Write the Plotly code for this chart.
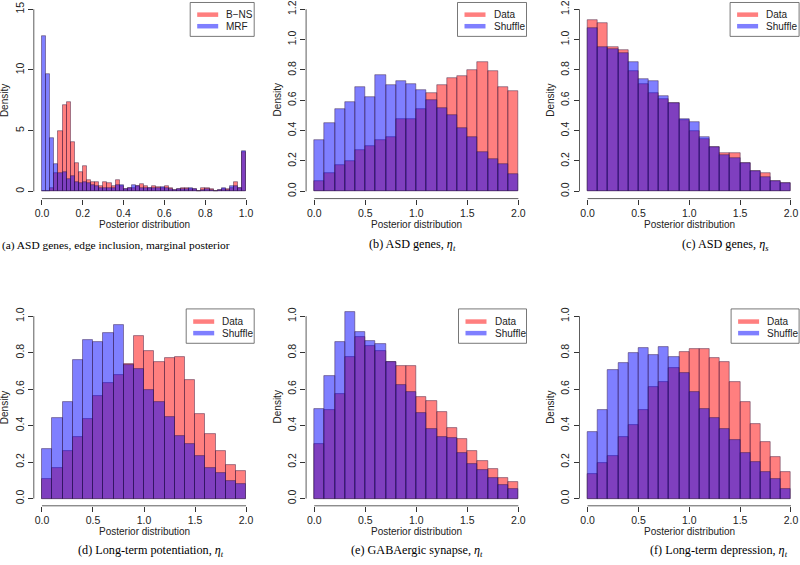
import numpy as np
import plotly.graph_objects as go

W, H = 800, 565

# ---------------- data (densities) ----------------
# panel (a): bins of width 0.02 on [0, 1]
a_edges_step = 0.02
a_bns = [0, 0, 0.3, 1.5, 5.0, 7.1, 7.4, 4.1, 2.35, 1.6, 2.1, 0.9, 0.75,
         0.8, 0.4, 0.8, 0.7, 0.45, 0.9, 0.45, 0.2, 0.3, 0.3, 0.4, 0.6, 0.4,
         0.3, 0.4, 0.35, 0.3, 0.4, 0.3, 0.1, 0.2, 0.3, 0.3, 0.2, 0.2, 0.05,
         0.3, 0.25, 0.2, 0.05, 0.1, 0.2, 0.2, 0.3, 0.8, 0.3, 3.25]
a_mrf = [12.8, 9.7, 4.4, 2.27, 1.5, 1.6, 1.0, 1.3, 0.8, 0.7, 0.8, 0.7, 0.5,
         0.45, 0.3, 0.3, 0.3, 0.3, 0.5, 0.55, 0.2, 0.3, 0.5, 0.4, 0.3, 0.3,
         0.3, 0.25, 0.3, 0.35, 0.3, 0.2, 0.1, 0.2, 0.2, 0.2, 0.25, 0.2, 0.05,
         0.1, 0.2, 0.1, 0.05, 0.15, 0.3, 0.15, 0.45, 0.45, 0.3, 3.3]

# panels (b)-(f): bins of width 0.1 on [0, 2]
eta_step = 0.1
b_data = [0.07, 0.12, 0.175, 0.20, 0.27, 0.30, 0.34, 0.36, 0.48, 0.48,
          0.54, 0.645, 0.70, 0.75, 0.76, 0.80, 0.85, 0.79, 0.69, 0.66]
b_shuf = [0.34, 0.45, 0.54, 0.59, 0.69, 0.62, 0.77, 0.70, 0.73, 0.71,
          0.67, 0.60, 0.55, 0.50, 0.42, 0.36, 0.26, 0.21, 0.18, 0.115]

c_data = [1.13, 1.11, 0.95, 0.93, 0.79, 0.71, 0.645, 0.61, 0.58, 0.47,
          0.40, 0.345, 0.29, 0.25, 0.25, 0.19, 0.135, 0.12, 0.07, 0.055]
c_shuf = [1.075, 0.95, 0.94, 0.915, 0.85, 0.74, 0.73, 0.63, 0.58, 0.475,
          0.46, 0.36, 0.29, 0.24, 0.22, 0.19, 0.135, 0.095, 0.07, 0.055]

d_data = [0.105, 0.17, 0.26, 0.34, 0.435, 0.565, 0.635, 0.68, 0.74, 0.89,
          0.81, 0.75, 0.77, 0.775, 0.65, 0.465, 0.355, 0.26, 0.185, 0.15]
d_shuf = [0.27, 0.44, 0.53, 0.76, 0.87, 0.86, 0.91, 0.955, 0.735, 0.71,
          0.595, 0.53, 0.45, 0.345, 0.30, 0.235, 0.17, 0.14, 0.095, 0.082]

e_data = [0.297, 0.488, 0.574, 0.778, 0.887, 0.838, 0.807, 0.748, 0.73, 0.73,
          0.555, 0.534, 0.477, 0.386, 0.328, 0.26, 0.206, 0.164, 0.111, 0.091]
e_shuf = [0.49, 0.67, 0.86, 1.025, 0.915, 0.865, 0.847, 0.75, 0.625, 0.587,
          0.47, 0.38, 0.34, 0.33, 0.25, 0.19, 0.155, 0.113, 0.076, 0.055]

f_data = [0.137, 0.197, 0.231, 0.337, 0.406, 0.486, 0.61, 0.637, 0.714, 0.803,
          0.823, 0.823, 0.769, 0.75, 0.637, 0.528, 0.41, 0.31, 0.228, 0.146]
f_shuf = [0.368, 0.486, 0.705, 0.745, 0.80, 0.825, 0.79, 0.83, 0.778, 0.69,
          0.583, 0.49, 0.443, 0.383, 0.322, 0.248, 0.20, 0.146, 0.109, 0.055]

a_xticks = [0.0, 0.2, 0.4, 0.6, 0.8, 1.0]
a_yticks = [0, 5, 10, 15]
eta_xticks = [0.0, 0.5, 1.0, 1.5, 2.0]
top_yticks = [0.0, 0.2, 0.4, 0.6, 0.8, 1.0, 1.2]
bot_yticks = [0.0, 0.2, 0.4, 0.6, 0.8, 1.0]

captions = [
    "(a) ASD genes, edge inclusion, marginal posterior",
    "(b) ASD genes, <i>η</i><sub><i>t</i></sub>",
    "(c) ASD genes, <i>η</i><sub><i>s</i></sub>",
    "(d) Long-term potentiation, <i>η</i><sub><i>t</i></sub>",
    "(e) GABAergic synapse, <i>η</i><sub><i>t</i></sub>",
    "(f) Long-term depression, <i>η</i><sub><i>t</i></sub>",
]
# ------------------------------------------------------------------------

RED = "rgba(255,0,0,0.5)"
BLUE = "rgba(0,0,255,0.5)"
SANS = "Liberation Sans, Arial, sans-serif"
SERIF = "Liberation Serif, Times New Roman, serif"
TXT = "#222"


def px(x):
    return x / W


def py(y):
    return 1 - y / H


# plot regions in pixels: (left, top, right, bottom)
regions = [
    (33.8, 0.0, 254.2, 197.3),
    (306.1, 0.0, 526.5, 197.3),
    (579.5, 0.0, 799.1, 197.3),
    (33.8, 308.0, 254.2, 505.6),
    (306.1, 308.0, 526.5, 505.6),
    (579.5, 308.0, 799.1, 505.6),
]

panels = [
    dict(r=a_bns, b=a_mrf, step=a_edges_step, xmax=1.0, ymax=15.0,
         xt=a_xticks, yt=a_yticks, xfmt="%.1f", yfmt="%d",
         labels=("B\u2212NS", "MRF"), lw=64),
    dict(r=b_data, b=b_shuf, step=eta_step, xmax=2.0, ymax=1.2,
         xt=eta_xticks, yt=top_yticks, xfmt="%.1f", yfmt="%.1f",
         labels=("Data", "Shuffle"), lw=69),
    dict(r=c_data, b=c_shuf, step=eta_step, xmax=2.0, ymax=1.2,
         xt=eta_xticks, yt=top_yticks, xfmt="%.1f", yfmt="%.1f",
         labels=("Data", "Shuffle"), lw=69),
    dict(r=d_data, b=d_shuf, step=eta_step, xmax=2.0, ymax=1.0,
         xt=eta_xticks, yt=bot_yticks, xfmt="%.1f", yfmt="%.1f",
         labels=("Data", "Shuffle"), lw=68),
    dict(r=e_data, b=e_shuf, step=eta_step, xmax=2.0, ymax=1.0,
         xt=eta_xticks, yt=bot_yticks, xfmt="%.1f", yfmt="%.1f",
         labels=("Data", "Shuffle"), lw=68),
    dict(r=f_data, b=f_shuf, step=eta_step, xmax=2.0, ymax=1.0,
         xt=eta_xticks, yt=bot_yticks, xfmt="%.1f", yfmt="%.1f",
         labels=("Data", "Shuffle"), lw=68),
]

fig = go.Figure()
shapes = []
annotations = []
layout = {}

for i, (p, reg) in enumerate(zip(panels, regions)):
    k = "" if i == 0 else str(i + 1)
    xa, ya = "x" + k, "y" + k
    L, T, R, B = reg
    n = len(p["r"])
    centers = (np.arange(n) + 0.5) * p["step"]
    for vals, col in ((p["r"], RED), (p["b"], BLUE)):
        fig.add_trace(go.Bar(
            x=centers, y=vals, width=p["step"], xaxis=xa, yaxis=ya,
            marker=dict(color=col, line=dict(color="rgba(50,20,60,0.75)", width=0.6)),
            showlegend=False, hoverinfo="skip"))
    xpad = 0.04 * p["xmax"]
    ypad = 0.04 * p["ymax"]
    layout["xaxis" + k] = dict(
        domain=[px(L), px(R)], anchor=ya, range=[-xpad, p["xmax"] + xpad],
        showgrid=False, zeroline=False, showline=False,
        ticks="outside", ticklen=5, tickwidth=0.8, tickcolor="#333",
        tickvals=p["xt"], ticktext=[p["xfmt"] % v for v in p["xt"]],
        tickfont=dict(family=SANS, size=10.5, color=TXT), fixedrange=True)
    layout["yaxis" + k] = dict(
        domain=[py(B), py(T)], anchor=xa, range=[-ypad, p["ymax"] + ypad],
        showgrid=False, zeroline=False, showline=False,
        ticks="outside", ticklen=5, tickwidth=0.8, tickcolor="#333",
        tickvals=p["yt"], ticktext=[p["yfmt"] % v for v in p["yt"]],
        tickangle=-90,
        tickfont=dict(family=SANS, size=10.5, color=TXT), fixedrange=True)
    # R-style axis lines spanning only the tick range
    shapes.append(dict(type="line", xref=xa, yref="paper",
                       x0=p["xt"][0], x1=p["xt"][-1], y0=py(B), y1=py(B),
                       line=dict(color="#333", width=0.8)))
    shapes.append(dict(type="line", xref="paper", yref=ya,
                       x0=px(L), x1=px(L), y0=p["yt"][0], y1=p["yt"][-1],
                       line=dict(color="#333", width=0.8)))
    # axis titles
    annotations.append(dict(text="Density", xref="paper", yref="paper",
                            x=px(L - 29), y=py((T + B) / 2), textangle=-90,
                            showarrow=False, xanchor="center", yanchor="middle",
                            font=dict(family=SANS, size=10, color=TXT)))
    annotations.append(dict(text="Posterior distribution", xref="paper", yref="paper",
                            x=px((L + R) / 2), y=py(B + 26),
                            showarrow=False, xanchor="center", yanchor="middle",
                            font=dict(family=SANS, size=10, color=TXT)))
    # legend box
    bl = R - p["lw"]
    bt = T if T > 0 else 0.5
    shapes.append(dict(type="rect", xref="paper", yref="paper",
                       x0=px(bl), x1=px(R), y0=py(bt), y1=py(T + 34.5),
                       line=dict(color="#555", width=0.8), fillcolor="white"))
    for j, (lab, col) in enumerate(zip(p["labels"], (RED, BLUE))):
        yy = T + 12.7 + j * 11.6
        shapes.append(dict(type="line", xref="paper", yref="paper",
                           x0=px(bl + 7), x1=px(bl + 28), y0=py(yy), y1=py(yy),
                           line=dict(color=col, width=4.5)))
        annotations.append(dict(text=lab, xref="paper", yref="paper",
                                x=px(bl + 34), y=py(yy), showarrow=False,
                                xanchor="left", yanchor="middle",
                                font=dict(family=SANS, size=10, color=TXT)))

# captions: (x, y, anchor, font size)
cap_pos = [(0, 244, "left", 11.4), (412, 244, "center", 12.2),
           (725, 244, "center", 12.2), (151, 551, "center", 12.2),
           (417, 551, "center", 12.2), (719, 551, "center", 12.2)]
for text, (cx, cy, anc, fs) in zip(captions, cap_pos):
    annotations.append(dict(text=text, xref="paper", yref="paper",
                            x=px(cx), y=py(cy), showarrow=False,
                            xanchor=anc, yanchor="middle",
                            font=dict(family=SERIF, size=fs, color="black")))

fig.update_layout(
    width=W, height=H, margin=dict(l=0, r=0, t=0, b=0),
    paper_bgcolor="white", plot_bgcolor="white",
    barmode="overlay", bargap=0, showlegend=False,
    shapes=shapes, annotations=annotations, **layout)

fig.write_html("out.html", config={"displayModeBar": False},
               post_script="document.body.style.margin='0px';"
                           "document.body.style.padding='0px';"
                           "document.body.style.overflow='hidden';")
